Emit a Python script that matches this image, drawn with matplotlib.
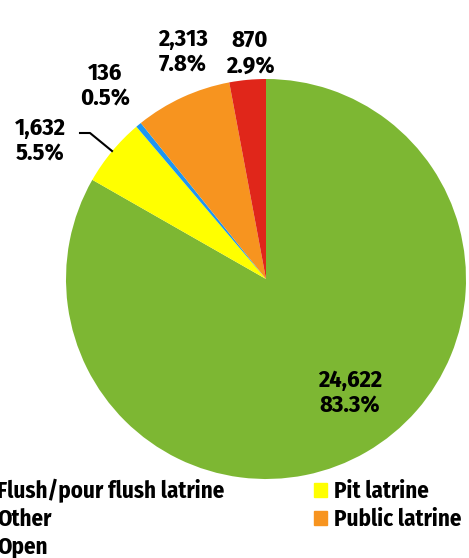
import matplotlib
matplotlib.use("Agg")
import matplotlib.pyplot as plt
from matplotlib.patches import Patch

plt.rcParams['font.family'] = ['Fira Sans Condensed', 'DejaVu Sans']
plt.rcParams['font.weight'] = 'bold'

categories = ["Flush/pour flush latrine", "Pit latrine", "Other", "Public latrine", "Open"]
values = [24622, 1632, 136, 2313, 870]
pct_labels = ["83.3%", "5.5%", "0.5%", "7.8%", "2.9%"]
colors = ["#7DB733", "#FFFF00", "#1E96F0", "#F7941F", "#E0261A"]

W, H = 469, 558
fig = plt.figure(figsize=(W/100, H/100), dpi=100)
cx, cy, r = 266, 279, 200
ax = fig.add_axes([(cx-r)/W, (H-cy-r)/H, 2*r/W, 2*r/H])
wedges, _ = ax.pie(values, colors=colors, startangle=90, counterclock=False,
                   radius=1, wedgeprops=dict(linewidth=0))
ax.set_xlim(-1, 1); ax.set_ylim(-1, 1)
ax.set_aspect('auto')
ax.axis('off')

def px(x, y):
    return ((x-cx)/r, (cy-y)/r)

label_pos = [px(350, 393), px(40, 141), px(105, 86), px(183, 52), px(250, 53)]
for v, p, pos in zip(values, pct_labels, label_pos):
    ax.text(pos[0], pos[1], f"{v:,}\n{p}", ha='center', va='center', fontsize=17.5,
            fontweight='bold', linespacing=1.15, clip_on=False)

lx, ly = zip(px(80, 133), px(90, 133), px(112, 151))
ax.plot(lx, ly, color='black', lw=1.5, clip_on=False)

handles = [Patch(color=c, label=l) for c, l in zip(colors, categories)]
order = [0, 2, 4, 1, 3]
leg = fig.legend([handles[i] for i in order], [categories[i] for i in order],
                 ncol=2, loc='upper left', bbox_to_anchor=(-22/W, 1-479/H),
                 frameon=False, fontsize=16.5, handlelength=0.55, handleheight=0.55,
                 handletextpad=0.3, columnspacing=3.9, labelspacing=0.2,
                 borderpad=0, borderaxespad=0)
for t in leg.get_texts():
    t.set_fontweight('bold')

fig.savefig("out.png", dpi=100)
